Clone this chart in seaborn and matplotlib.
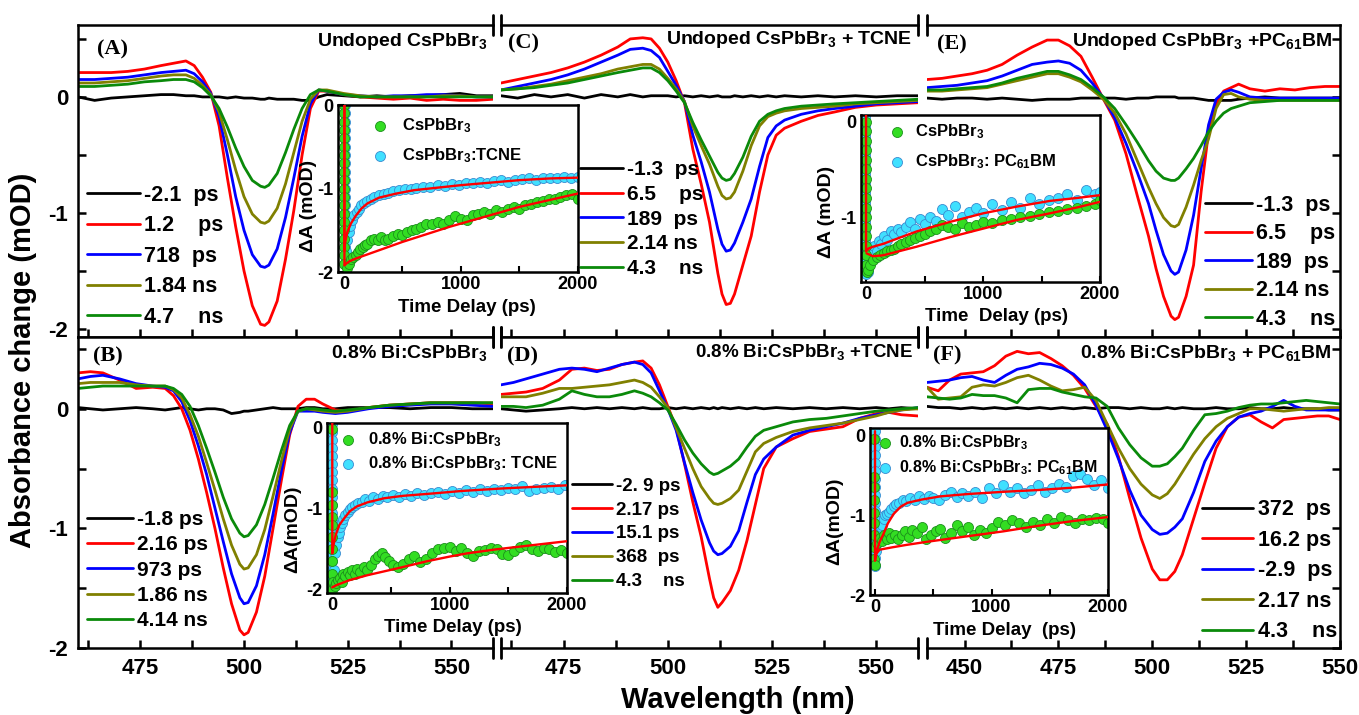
import numpy as np
import matplotlib
matplotlib.use("Agg")
import matplotlib.pyplot as plt
import seaborn as sns
from matplotlib.ticker import MultipleLocator, FixedLocator, FuncFormatter

# ==========================================
# TRANSIENT SPECTRA  (wavelength nm, dA mOD)
# order of each panel: black, red, blue, olive, green
# ==========================================
wl_a = [460, 464, 468, 472, 476, 480, 483, 486, 488, 490, 492, 494, 496, 498, 500, 502, 504, 505,
        506, 508, 510, 512, 514, 516, 518, 520, 524, 528, 532, 536, 540, 544, 548, 552, 556, 560]
a_black = [0.00, -0.03, -0.01, 0.00, 0.01, 0.02, 0.02, 0.01, 0.01, 0.00, 0.00, 0.00, -0.01, 0.00, -0.01, -0.01, -0.02, -0.02,
           -0.01, -0.02, -0.02, -0.02, -0.03, -0.03, 0.00, 0.02, 0.01, 0.00, 0.01, 0.00, 0.01, 0.01, 0.02, 0.03, 0.01, 0.01]
a_red = [0.21, 0.21, 0.21, 0.22, 0.24, 0.27, 0.29, 0.31, 0.27, 0.17, 0.04, -0.25, -0.70, -1.12, -1.50, -1.80, -1.96, -1.97,
         -1.94, -1.76, -1.40, -0.98, -0.50, -0.10, 0.05, 0.05, 0.02, 0.00, -0.01, -0.02, -0.01, -0.03, -0.02, -0.03, -0.03, -0.02]
a_blue = [0.15, 0.15, 0.16, 0.17, 0.19, 0.21, 0.22, 0.23, 0.20, 0.13, 0.03, -0.17, -0.50, -0.86, -1.15, -1.36, -1.46, -1.47,
          -1.45, -1.31, -1.04, -0.70, -0.34, -0.06, 0.06, 0.05, 0.02, 0.01, 0.00, 0.01, 0.01, 0.02, 0.02, 0.01, 0.00, 0.00]
a_olive = [0.12, 0.12, 0.13, 0.14, 0.16, 0.18, 0.19, 0.19, 0.16, 0.10, 0.02, -0.13, -0.37, -0.63, -0.86, -1.01, -1.08, -1.09,
           -1.07, -0.96, -0.75, -0.48, -0.21, -0.02, 0.06, 0.06, 0.03, 0.01, 0.00, 0.00, 0.00, 0.00, 0.01, 0.01, 0.00, 0.00]
a_green = [0.09, 0.09, 0.10, 0.11, 0.13, 0.14, 0.15, 0.15, 0.13, 0.08, 0.01, -0.10, -0.26, -0.44, -0.60, -0.72, -0.77, -0.78,
           -0.76, -0.66, -0.48, -0.28, -0.10, 0.02, 0.06, 0.05, 0.02, 0.00, 0.00, 0.00, 0.00, 0.00, 0.00, 0.00, 0.00, 0.00]
labels_a = ["-2.1  ps", "1.2    ps", "718  ps", "1.84 ns", "4.7    ns"]

wl_b = [460, 463, 466, 470, 474, 478, 481, 483, 485, 487, 489, 491, 493, 495, 497, 499, 500, 501,
        503, 505, 507, 509, 511, 513, 515, 517, 519, 522, 525, 530, 535, 540, 545, 550, 555, 560]
b_black = [0.01, 0.00, -0.01, 0.00, 0.01, 0.00, -0.01, 0.00, 0.01, 0.00, -0.01, 0.00, 0.00, -0.01, -0.04, -0.03, -0.02, -0.02,
           -0.01, 0.00, 0.01, 0.00, 0.00, 0.00, 0.01, 0.01, 0.00, 0.00, 0.01, 0.01, 0.01, 0.00, 0.01, 0.01, 0.00, 0.00]
b_red = [0.30, 0.31, 0.30, 0.24, 0.17, 0.18, 0.17, 0.11, 0.00, -0.18, -0.42, -0.70, -1.00, -1.33, -1.63, -1.85, -1.89, -1.87,
         -1.70, -1.40, -1.00, -0.60, -0.22, 0.02, 0.08, 0.08, 0.04, -0.01, -0.02, 0.01, 0.03, 0.04, 0.05, 0.05, 0.05, 0.04]
b_blue = [0.25, 0.27, 0.28, 0.25, 0.21, 0.19, 0.18, 0.15, 0.06, -0.10, -0.31, -0.55, -0.83, -1.11, -1.38, -1.58, -1.63, -1.62,
          -1.48, -1.22, -0.88, -0.52, -0.20, -0.02, -0.02, -0.02, -0.03, -0.04, -0.03, 0.00, 0.02, 0.03, 0.04, 0.04, 0.03, 0.02]
b_olive = [0.21, 0.22, 0.22, 0.22, 0.20, 0.19, 0.19, 0.16, 0.09, -0.05, -0.23, -0.45, -0.68, -0.92, -1.14, -1.30, -1.34, -1.33,
           -1.22, -1.01, -0.73, -0.44, -0.17, -0.02, 0.00, -0.01, -0.02, -0.03, -0.02, 0.01, 0.03, 0.04, 0.05, 0.05, 0.05, 0.05]
b_green = [0.17, 0.18, 0.19, 0.19, 0.19, 0.19, 0.19, 0.17, 0.12, 0.02, -0.14, -0.33, -0.53, -0.74, -0.92, -1.04, -1.07, -1.06,
           -0.97, -0.80, -0.58, -0.35, -0.14, -0.02, 0.00, 0.00, -0.01, -0.02, -0.01, 0.01, 0.03, 0.04, 0.05, 0.05, 0.05, 0.05]
labels_b = ["-1.8 ps", "2.16 ps", "973 ps", "1.86 ns", "4.14 ns"]

wl_c = [460, 464, 468, 472, 476, 480, 484, 488, 491, 494, 496, 498, 500, 502, 504, 506, 508, 510,
        512, 513, 514, 515, 516, 518, 520, 522, 524, 526, 528, 532, 536, 540, 545, 550, 555, 560]
c_black = [0.01, -0.01, 0.02, 0.00, 0.02, -0.01, 0.02, 0.00, 0.02, 0.00, 0.01, 0.01, 0.01, 0.00, 0.01, 0.00, 0.01, 0.00,
           0.01, 0.00, 0.00, 0.00, 0.01, 0.00, 0.01, 0.00, 0.01, 0.00, 0.01, 0.00, 0.01, 0.00, 0.01, 0.00, 0.01, 0.01]
c_red = [0.12, 0.15, 0.18, 0.21, 0.25, 0.30, 0.36, 0.43, 0.50, 0.51, 0.50, 0.42, 0.30, 0.14, -0.05, -0.45, -0.75, -1.08,
         -1.52, -1.70, -1.79, -1.78, -1.70, -1.45, -1.20, -0.82, -0.50, -0.33, -0.27, -0.21, -0.16, -0.13, -0.09, -0.07, -0.06, -0.05]
c_blue = [0.06, 0.09, 0.12, 0.15, 0.19, 0.24, 0.30, 0.36, 0.41, 0.42, 0.40, 0.34, 0.22, 0.10, -0.04, -0.33, -0.56, -0.82,
          -1.14, -1.27, -1.33, -1.32, -1.26, -1.08, -0.88, -0.60, -0.35, -0.25, -0.20, -0.15, -0.12, -0.10, -0.08, -0.06, -0.05, -0.04]
c_olive = [0.06, 0.07, 0.09, 0.11, 0.14, 0.17, 0.20, 0.24, 0.26, 0.28, 0.28, 0.24, 0.16, 0.07, -0.04, -0.25, -0.42, -0.58,
           -0.77, -0.85, -0.88, -0.87, -0.82, -0.64, -0.42, -0.25, -0.17, -0.14, -0.12, -0.10, -0.09, -0.08, -0.06, -0.05, -0.04, -0.03]
c_green = [0.06, 0.07, 0.08, 0.10, 0.12, 0.15, 0.18, 0.21, 0.23, 0.25, 0.25, 0.21, 0.14, 0.05, -0.05, -0.22, -0.37, -0.51,
           -0.65, -0.70, -0.72, -0.71, -0.66, -0.52, -0.34, -0.21, -0.15, -0.12, -0.10, -0.08, -0.07, -0.06, -0.05, -0.04, -0.03, -0.02]
labels_c = ["-1.3  ps", "6.5    ps", "189  ps", "2.14 ns", "4.3    ns"]

wl_d = [460, 463, 466, 470, 474, 477, 480, 483, 486, 489, 492, 494, 496, 498, 500, 502, 504, 506, 508,
        510, 511, 512, 513, 515, 517, 519, 521, 523, 526, 530, 534, 538, 542, 546, 550, 553, 556, 560]
d_black = [0.00, -0.01, -0.02, -0.01, 0.00, 0.01, 0.00, 0.01, 0.00, 0.01, 0.00, 0.01, 0.00, 0.00, 0.01, 0.00, 0.01, 0.00, 0.01,
           0.00, 0.01, 0.00, 0.01, 0.00, 0.01, 0.00, 0.01, 0.00, 0.01, 0.00, 0.01, 0.00, 0.01, 0.00, 0.01, 0.00, 0.01, 0.00]
d_red = [0.12, 0.13, 0.14, 0.17, 0.24, 0.33, 0.34, 0.32, 0.33, 0.37, 0.39, 0.40, 0.34, 0.20, 0.02, -0.16, -0.46, -0.78, -1.07,
         -1.42, -1.58, -1.66, -1.62, -1.52, -1.35, -1.10, -0.80, -0.50, -0.32, -0.25, -0.19, -0.17, -0.15, -0.08, -0.04, -0.03, -0.05, -0.06]
d_blue = [0.20, 0.22, 0.25, 0.29, 0.33, 0.34, 0.33, 0.31, 0.34, 0.37, 0.39, 0.37, 0.30, 0.15, 0.00, -0.18, -0.45, -0.70, -0.93,
          -1.12, -1.19, -1.22, -1.21, -1.15, -1.02, -0.78, -0.55, -0.42, -0.32, -0.22, -0.18, -0.15, -0.12, -0.08, -0.05, -0.03, -0.01, 0.01]
d_olive = [0.10, 0.10, 0.10, 0.13, 0.17, 0.17, 0.18, 0.19, 0.20, 0.22, 0.24, 0.22, 0.18, 0.10, 0.01, -0.16, -0.33, -0.50, -0.65,
           -0.75, -0.79, -0.80, -0.79, -0.75, -0.68, -0.52, -0.36, -0.29, -0.24, -0.19, -0.16, -0.14, -0.12, -0.09, -0.06, -0.03, -0.01, 0.00]
d_green = [0.02, 0.02, 0.01, 0.03, 0.08, 0.15, 0.12, 0.10, 0.10, 0.12, 0.15, 0.13, 0.10, 0.05, -0.01, -0.13, -0.26, -0.37, -0.46,
           -0.53, -0.55, -0.54, -0.52, -0.48, -0.42, -0.32, -0.23, -0.18, -0.15, -0.11, -0.09, -0.08, -0.06, -0.04, -0.02, -0.01, 0.00, 0.01]
labels_d = ["-2. 9 ps", "2.17 ps", "15.1 ps", "368  ps", "4.3    ns"]

wl_e = [440, 444, 448, 452, 456, 460, 464, 468, 472, 475, 478, 481, 484, 487, 490, 493, 496, 499, 501,
        503, 505, 506, 507, 509, 511, 513, 515, 517, 519, 521, 523, 526, 530, 534, 538, 542, 546, 550]
e_black = [-0.01, -0.02, -0.01, -0.01, -0.02, -0.01, -0.02, -0.03, -0.02, -0.02, -0.02, -0.01, -0.01, -0.01, -0.01, -0.02, -0.01, -0.01, 0.00,
           0.00, 0.00, 0.00, -0.01, -0.01, -0.01, -0.02, -0.03, -0.03, -0.03, -0.03, -0.02, -0.01, 0.00, -0.01, -0.01, -0.01, -0.01, -0.01]
e_red = [0.15, 0.16, 0.18, 0.20, 0.23, 0.28, 0.36, 0.43, 0.49, 0.49, 0.44, 0.35, 0.17, -0.02, -0.20, -0.49, -0.85, -1.20, -1.48,
         -1.72, -1.89, -1.92, -1.90, -1.72, -1.45, -0.82, -0.30, -0.06, 0.05, 0.08, 0.11, 0.07, 0.05, 0.07, 0.06, 0.08, 0.09, 0.09]
e_blue = [0.08, 0.09, 0.10, 0.12, 0.14, 0.18, 0.23, 0.28, 0.30, 0.31, 0.29, 0.23, 0.12, -0.01, -0.18, -0.40, -0.65, -0.92, -1.15,
          -1.36, -1.50, -1.53, -1.51, -1.32, -1.02, -0.62, -0.24, -0.02, 0.04, 0.06, 0.04, 0.00, -0.01, -0.01, -0.01, -0.01, -0.01, -0.01]
e_olive = [0.05, 0.05, 0.06, 0.07, 0.08, 0.11, 0.14, 0.17, 0.20, 0.20, 0.17, 0.13, 0.06, -0.02, -0.14, -0.32, -0.55, -0.78, -0.92,
           -1.04, -1.11, -1.12, -1.10, -0.95, -0.76, -0.55, -0.36, -0.10, 0.02, 0.03, 0.00, -0.02, -0.03, -0.03, -0.03, -0.03, -0.03, -0.03]
e_green = [0.06, 0.06, 0.07, 0.08, 0.09, 0.12, 0.16, 0.19, 0.22, 0.22, 0.19, 0.15, 0.08, 0.00, -0.10, -0.24, -0.39, -0.55, -0.64,
           -0.70, -0.72, -0.72, -0.70, -0.62, -0.53, -0.42, -0.30, -0.21, -0.14, -0.10, -0.08, -0.05, -0.04, -0.03, -0.03, -0.03, -0.03, -0.03]
labels_e = ["-1.3  ps", "6.5    ps", "189  ps", "2.14 ns", "4.3    ns"]

wl_f = [440, 443, 446, 449, 452, 455, 458, 461, 464, 467, 470, 473, 476, 479, 482, 485, 488, 491, 494, 497,
        500, 502, 504, 506, 508, 511, 514, 517, 520, 523, 526, 529, 532, 535, 538, 541, 544, 547, 550]
f_black = [0.02, 0.01, 0.01, 0.00, 0.01, 0.00, 0.01, 0.00, 0.01, 0.00, 0.01, 0.00, 0.01, 0.00, 0.01, 0.00, 0.01, 0.01, 0.00, 0.01,
           0.00, 0.00, 0.01, 0.00, 0.01, 0.00, 0.00, 0.01, 0.00, 0.00, 0.01, 0.00, 0.00, 0.01, 0.00, 0.00, 0.00, -0.01, -0.01]
f_red = [0.18, 0.15, 0.24, 0.29, 0.30, 0.31, 0.36, 0.44, 0.48, 0.46, 0.47, 0.42, 0.36, 0.28, 0.17, 0.02, -0.13, -0.40, -0.75, -1.08,
         -1.34, -1.43, -1.43, -1.36, -1.22, -0.92, -0.62, -0.33, -0.15, -0.07, -0.05, -0.11, -0.16, -0.09, -0.08, -0.07, -0.06, -0.06, -0.09]
f_blue = [0.22, 0.23, 0.24, 0.26, 0.27, 0.24, 0.22, 0.28, 0.33, 0.35, 0.38, 0.37, 0.34, 0.29, 0.20, 0.03, -0.18, -0.42, -0.68, -0.89,
          -1.01, -1.05, -1.04, -0.99, -0.92, -0.70, -0.44, -0.27, -0.15, -0.07, -0.04, -0.02, 0.02, 0.07, 0.02, -0.01, -0.01, -0.01, -0.01]
f_olive = [0.18, 0.08, 0.09, 0.10, 0.18, 0.20, 0.19, 0.22, 0.26, 0.28, 0.24, 0.19, 0.15, 0.16, 0.18, 0.07, -0.13, -0.33, -0.50, -0.63,
           -0.72, -0.75, -0.71, -0.63, -0.53, -0.38, -0.25, -0.15, -0.08, -0.04, 0.00, 0.00, -0.01, -0.02, -0.01, 0.00, 0.00, 0.01, 0.01]
f_green = [0.10, 0.09, 0.08, 0.09, 0.12, 0.11, 0.11, 0.09, 0.05, 0.16, 0.17, 0.17, 0.14, 0.12, 0.10, 0.09, 0.02, -0.16, -0.30, -0.41,
           -0.48, -0.48, -0.46, -0.40, -0.33, -0.18, -0.05, -0.04, -0.02, 0.01, 0.03, 0.04, 0.04, 0.05, 0.06, 0.07, 0.06, 0.05, 0.04]
labels_f = ["372  ps", "16.2 ps", "-2.9  ps", "2.17 ns", "4.3    ns"]

titles = ["Undoped CsPbBr$_3$", "0.8% Bi:CsPbBr$_3$",
          "Undoped CsPbBr$_3$ + TCNE", "0.8% Bi:CsPbBr$_3$ +TCNE",
          "Undoped CsPbBr$_3$ +PC$_{61}$BM", "0.8% Bi:CsPbBr$_3$ + PC$_{61}$BM"]

# ==========================================
# KINETIC INSETS  (time ps, dA mOD) as (t, dA) pairs
# ==========================================
ins1_green = [(0, 0.00), (0, -0.10), (0, -0.20), (0, -0.30), (0, -0.40), (0, -0.50), (0, -0.60), (0, -0.70), (0, -0.80), (0, -0.90),
              (0, -1.00), (0, -1.10), (0, -1.20), (0, -1.30), (0, -1.40), (0, -1.50), (0, -1.60), (0, -1.70), (0, -1.80), (0, -1.90),
              (30, -1.95), (45, -1.90), (60, -1.85), (80, -1.82), (100, -1.80), (120, -1.76), (140, -1.72), (160, -1.70), (180, -1.68),
              (200, -1.66), (230, -1.62), (260, -1.60), (290, -1.62), (320, -1.58), (350, -1.62), (380, -1.60), (420, -1.57), (460, -1.55),
              (500, -1.56), (540, -1.52), (580, -1.50), (620, -1.48), (660, -1.46), (700, -1.43), (750, -1.42), (800, -1.40), (850, -1.42),
              (900, -1.38), (950, -1.33), (1000, -1.36), (1050, -1.38), (1100, -1.32), (1150, -1.30), (1200, -1.28), (1250, -1.30),
              (1300, -1.26), (1350, -1.28), (1400, -1.24), (1450, -1.22), (1500, -1.24), (1550, -1.20), (1600, -1.18), (1650, -1.16),
              (1700, -1.15), (1750, -1.13), (1800, -1.12), (1850, -1.10), (1900, -1.08), (1950, -1.06), (2000, -1.12)]
ins1_cyan = [(8, 0.00), (8, -0.10), (8, -0.20), (8, -0.30), (8, -0.40), (8, -0.50), (8, -0.60), (8, -0.70), (8, -0.80), (8, -0.90),
             (8, -1.00), (8, -1.10), (8, -1.20), (8, -1.30), (8, -1.40), (8, -1.50), (8, -1.60), (8, -1.70), (8, -1.80), (8, -1.90),
             (20, -1.75), (30, -1.62), (40, -1.52), (55, -1.45), (70, -1.38), (90, -1.32), (110, -1.28), (130, -1.24), (150, -1.20),
             (175, -1.17), (200, -1.15), (230, -1.12), (260, -1.10), (300, -1.08), (340, -1.06), (380, -1.05), (420, -1.03), (470, -1.02),
             (520, -1.01), (570, -1.00), (620, -0.99), (680, -0.98), (740, -0.98), (800, -0.96), (860, -0.97), (920, -0.95), (980, -0.96),
             (1040, -0.93), (1100, -0.94), (1160, -0.92), (1220, -0.93), (1280, -0.91), (1340, -0.90), (1400, -0.92), (1460, -0.90),
             (1520, -0.89), (1580, -0.88), (1640, -0.90), (1700, -0.88), (1760, -0.87), (1820, -0.88), (1880, -0.86), (1940, -0.87), (2000, -0.86)]
ins1_fit_cyan = [(5, 0.0), (5, -1.75), (10, -1.65), (30, -1.52), (60, -1.42), (100, -1.33), (150, -1.24), (200, -1.18), (300, -1.11),
                 (450, -1.06), (600, -1.02), (800, -0.99), (1000, -0.96), (1250, -0.93), (1500, -0.90), (1750, -0.88), (2000, -0.87)]
ins1_fit_green = [(5, 0.0), (5, -1.92), (20, -1.90), (50, -1.87), (100, -1.84), (200, -1.79), (300, -1.74), (400, -1.69), (500, -1.64),
                  (700, -1.55), (900, -1.46), (1100, -1.38), (1300, -1.30), (1500, -1.22), (1750, -1.14), (2000, -1.06)]
ins1_labels = ["CsPbBr$_3$", "CsPbBr$_3$:TCNE"]

ins2_green = [(0, 0.00), (0, -0.10), (0, -0.20), (0, -0.30), (0, -0.40), (0, -0.50), (0, -0.60), (0, -0.70), (0, -0.80), (0, -0.90),
              (0, -1.00), (0, -1.10), (0, -1.20), (0, -1.30), (0, -1.40), (0, -1.50), (5, -1.58), (15, -1.55),
              (30, -1.50), (60, -1.45), (90, -1.42), (120, -1.40), (150, -1.38), (180, -1.36), (210, -1.34), (240, -1.33), (270, -1.30),
              (300, -1.28), (340, -1.26), (380, -1.24), (420, -1.22), (460, -1.20), (500, -1.18), (550, -1.15), (600, -1.12), (650, -1.08),
              (700, -1.10), (760, -1.12), (820, -1.06), (880, -1.10), (940, -1.08), (1000, -1.05), (1080, -1.06), (1160, -1.03),
              (1240, -1.02), (1320, -1.00), (1400, -0.99), (1480, -0.97), (1560, -0.95), (1640, -0.94), (1720, -0.92), (1800, -0.90),
              (1880, -0.88), (1960, -0.86), (2000, -0.82)]
ins2_cyan = [(-5, 0.05), (-5, -0.05), (-5, -0.15), (-5, -0.25), (-5, -0.35), (-5, -0.45), (-5, -0.55), (-5, -0.65), (-5, -0.75),
             (-5, -0.85), (-5, -0.95), (-5, -1.05), (-5, -1.15), (-5, -1.25), (-5, -1.35), (-5, -1.45), (-5, -1.55),
             (0, -1.60), (5, -1.52), (10, -1.45), (15, -1.58), (20, -1.50), (25, -1.40),
             (30, -1.45), (50, -1.38), (70, -1.30), (90, -1.35), (110, -1.25), (130, -1.28), (150, -1.20), (180, -1.24), (210, -1.15),
             (240, -1.18), (270, -1.12), (300, -1.16), (340, -1.10), (380, -1.05), (420, -1.12), (460, -1.02), (500, -1.07), (550, -1.00),
             (600, -1.04), (650, -0.92), (700, -0.98), (760, -0.88), (820, -1.00), (880, -0.95), (940, -0.90), (1000, -0.96), (1080, -0.86),
             (1160, -0.93), (1240, -0.84), (1320, -0.90), (1400, -0.80), (1480, -0.86), (1560, -0.82), (1640, -0.80), (1720, -0.76),
             (1800, -0.82), (1880, -0.72), (1960, -0.76), (2000, -0.74)]
ins2_fit_cyan = [(0, 0.07), (0, -1.36), (20, -1.33), (60, -1.31), (147, -1.28), (300, -1.21), (433, -1.15), (718, -1.05), (1003, -0.96),
                 (1288, -0.89), (1573, -0.83), (1800, -0.80), (2000, -0.77)]
ins2_fit_green = [(5, -1.38), (60, -1.41), (147, -1.40), (433, -1.31), (718, -1.21), (1003, -1.12), (1288, -1.03), (1573, -0.96),
                  (1800, -0.90), (2000, -0.84)]
ins2_labels = ["CsPbBr$_3$", "CsPbBr$_3$: PC$_{61}$BM"]

ins3_green = [(-5, -0.02), (-5, -0.79), (-5, -0.95), (-5, -1.10), (-5, -1.20), (-5, -1.35), (-5, -1.50), (-5, -1.65), (-5, -1.80),
              (-5, -1.95), (0, -2.00), (5, -1.90),
              (20, -1.95), (35, -1.92), (50, -1.88), (65, -1.85), (80, -1.90), (95, -1.80), (110, -1.83), (130, -1.78), (150, -1.82),
              (170, -1.76), (190, -1.80), (210, -1.74), (240, -1.78), (270, -1.72), (300, -1.76), (330, -1.70), (360, -1.62), (390, -1.58),
              (420, -1.55), (450, -1.60), (480, -1.65), (520, -1.70), (560, -1.72), (600, -1.68), (650, -1.62), (700, -1.58), (750, -1.66),
              (800, -1.62), (850, -1.55), (900, -1.50), (950, -1.48), (1000, -1.47), (1050, -1.52), (1100, -1.49), (1150, -1.55),
              (1200, -1.58), (1250, -1.52), (1300, -1.51), (1350, -1.48), (1400, -1.50), (1450, -1.56), (1500, -1.57), (1550, -1.52),
              (1600, -1.47), (1650, -1.45), (1700, -1.50), (1750, -1.52), (1800, -1.48), (1850, -1.50), (1900, -1.53), (1950, -1.51), (2000, -1.54)]
ins3_cyan = [(0, 0.05), (0, -0.05), (0, -0.15), (0, -0.25), (0, -0.35), (0, -0.45), (0, -0.55), (0, -0.65), (0, -0.75), (0, -0.85),
             (0, -0.95), (0, -1.05), (0, -1.15), (0, -1.25), (0, -1.35), (0, -1.45), (0, -1.55), (0, -1.65), (0, -1.75), (0, -1.85), (0, -1.95),
             (15, -1.75), (25, -1.55), (35, -1.45), (45, -1.35), (55, -1.30), (65, -1.22), (80, -1.18), (95, -1.12), (110, -1.08),
             (130, -1.04), (150, -1.00), (170, -0.98), (190, -0.95), (220, -0.93), (250, -0.92), (280, -0.88), (310, -0.90), (350, -0.86),
             (390, -0.88), (430, -0.84), (470, -0.86), (520, -0.83), (570, -0.85), (620, -0.82), (670, -0.84), (720, -0.80), (780, -0.83),
             (840, -0.81), (900, -0.79), (960, -0.82), (1020, -0.78), (1080, -0.80), (1140, -0.77), (1200, -0.79), (1260, -0.76),
             (1320, -0.78), (1380, -0.75), (1440, -0.77), (1500, -0.74), (1560, -0.76), (1620, -0.72), (1680, -0.78), (1740, -0.76),
             (1800, -0.74), (1860, -0.73), (1920, -0.75), (1980, -0.70)]
ins3_fit_cyan = [(0, 0.06), (0, -1.55), (10, -1.45), (30, -1.32), (60, -1.20), (100, -1.12), (150, -1.03), (210, -0.97), (300, -0.92),
                 (440, -0.87), (600, -0.84), (860, -0.81), (1100, -0.78), (1430, -0.75), (1700, -0.73), (2000, -0.71)]
ins3_fit_green = [(0, -1.97), (40, -1.94), (150, -1.88), (300, -1.82), (450, -1.77), (600, -1.72), (800, -1.65), (1000, -1.59),
                  (1150, -1.55), (1400, -1.50), (1700, -1.45), (2000, -1.40)]
ins3_labels = ["0.8% Bi:CsPbBr$_3$", "0.8% Bi:CsPbBr$_3$: TCNE"]

ins4_green = [(-5, -0.04), (-5, -0.52), (-5, -0.64), (-5, -0.81), (-5, -0.97), (-5, -1.10), (-5, -1.25), (-5, -1.40), (-5, -1.55), (0, -1.62),
              (20, -1.35), (40, -1.28), (60, -1.32), (80, -1.25), (100, -1.30), (120, -1.22), (140, -1.28), (170, -1.24), (200, -1.30),
              (230, -1.25), (260, -1.20), (290, -1.27), (320, -1.18), (360, -1.22), (400, -1.15), (440, -1.30), (480, -1.25), (520, -1.20),
              (560, -1.17), (600, -1.28), (650, -1.22), (700, -1.12), (750, -1.20), (800, -1.15), (850, -1.25), (900, -1.18), (950, -1.22),
              (1000, -1.16), (1060, -1.08), (1120, -1.12), (1180, -1.06), (1240, -1.10), (1300, -1.14), (1360, -1.08), (1420, -1.12),
              (1480, -1.05), (1540, -1.10), (1600, -1.02), (1660, -1.06), (1720, -1.09), (1780, -1.04), (1840, -1.06), (1900, -1.03),
              (1960, -1.05), (2000, -1.10)]
ins4_cyan = [(0, 0.06), (0, -0.04), (0, -0.14), (0, -0.24), (0, -0.34), (0, -0.44), (0, -0.54), (0, -0.64), (0, -0.74), (0, -0.84),
             (0, -0.94), (0, -1.04), (0, -1.14), (0, -1.24), (0, -1.34), (0, -1.44), (0, -1.54), (0, -1.64),
             (10, -1.45), (20, -1.35), (30, -1.28), (40, -1.22), (50, -1.15), (60, -1.12), (75, -1.05), (90, -1.00), (105, -0.98),
             (120, -0.95), (140, -0.92), (160, -0.88), (180, -0.86), (210, -0.84), (240, -0.80), (270, -0.82), (300, -0.78), (340, -0.80),
             (380, -0.76), (420, -0.79), (460, -0.75), (500, -0.78), (550, -0.80), (600, -0.74), (650, -0.70), (700, -0.77), (750, -0.72),
             (800, -0.75), (860, -0.70), (920, -0.78), (980, -0.66), (1040, -0.72), (1100, -0.62), (1160, -0.70), (1220, -0.65),
             (1280, -0.72), (1340, -0.68), (1400, -0.62), (1460, -0.70), (1520, -0.66), (1580, -0.60), (1640, -0.64), (1700, -0.50),
             (1760, -0.48), (1820, -0.54), (1880, -0.62), (1940, -0.55), (2000, -0.66)]
ins4_fit_cyan = [(0, 0.06), (0, -1.57), (20, -1.42), (40, -1.33), (70, -1.24), (110, -1.10), (160, -0.98), (220, -0.89), (280, -0.84),
                 (400, -0.80), (560, -0.76), (800, -0.73), (1130, -0.70), (1400, -0.68), (1700, -0.65), (2000, -0.61)]
ins4_fit_green = [(0, -1.50), (40, -1.43), (150, -1.40), (270, -1.37), (450, -1.33), (650, -1.29), (850, -1.25), (1100, -1.20),
                  (1400, -1.13), (1700, -1.07), (2000, -1.02)]
ins4_labels = ["0.8% Bi:CsPbBr$_3$", "0.8% Bi:CsPbBr$_3$: PC$_{61}$BM"]

# ==========================================
# STYLE
# ==========================================
sns.set_theme(style="ticks", rc={
    "axes.linewidth": 1.8, "axes.edgecolor": "black",
    "xtick.color": "black", "ytick.color": "black",
    "text.color": "black", "axes.labelcolor": "black",
})
plt.rcParams["font.family"] = ["Liberation Sans", "DejaVu Sans"]
plt.rcParams["font.weight"] = "bold"
plt.rcParams["axes.unicode_minus"] = False
plt.rcParams["mathtext.fontset"] = "custom"
plt.rcParams["mathtext.rm"] = "Liberation Sans:bold"
plt.rcParams["mathtext.it"] = "Liberation Sans:bold"
plt.rcParams["mathtext.bf"] = "Liberation Sans:bold"
plt.rcParams["mathtext.sf"] = "Liberation Sans:bold"
plt.rcParams["mathtext.default"] = "bf"

line_colors = ["#000000", "#ff0000", "#0000ff", "#808000", "#0a8a0a"]
fmt = FuncFormatter(lambda v, pos: f"{v:g}")

W, H = 1359, 715
fig = plt.figure(figsize=(W / 100, H / 100), dpi=100)


def add_px_axes(x, y, w, h):
    # pixel box (left, top, width, height) -> figure fraction
    return fig.add_axes([x / W, 1 - (y + h) / H, w / W, h / H])


col_x = [78, 501, 927]
col_w = [415, 417, 413]
row_y = [25, 337]
row_h = [312, 311]
col_xlim = [(460, 560), (460, 560), (440, 550)]
row_ylim = [(-2.07, 0.62), (-2.0, 0.60)]

# (row, col, letter, wl, curves, labels, legend(x, y, size, handle, spacing), title(x, y, size), letter(x, y))
panels = [
    (0, 0, "(A)", wl_a, [a_black, a_red, a_blue, a_olive, a_green], labels_a, (0.022, 0.488, 15.5, 2.45, 0.44), (0.988, 0.946, 14), (0.045, 0.923)),
    (1, 0, "(B)", wl_b, [b_black, b_red, b_blue, b_olive, b_green], labels_b, (0.022, 0.443, 15, 2.2, 0.30), (0.988, 0.949, 14), (0.037, 0.937)),
    (0, 1, "(C)", wl_c, [c_black, c_red, c_blue, c_olive, c_green], labels_c, (0.189, 0.566, 15, 2.06, 0.27), (0.985, 0.952, 14), (0.0175, 0.941)),
    (1, 1, "(D)", wl_d, [d_black, d_red, d_blue, d_olive, d_green], labels_d, (0.170, 0.548, 13.5, 2.13, 0.36), (0.988, 0.953, 13.5), (0.0137, 0.937)),
    (0, 2, "(E)", wl_e, [e_black, e_red, e_blue, e_olive, e_green], labels_e, (0.673, 0.456, 15.5, 2.18, 0.35), (0.982, 0.946, 14), (0.0235, 0.936)),
    (1, 2, "(F)", wl_f, [f_black, f_red, f_blue, f_olive, f_green], labels_f, (0.665, 0.478, 15.5, 2.4, 0.44), (0.980, 0.949, 14), (0.015, 0.942)),
]

for i, (r, c, letter, wl, curves, labels, leg, tpos, lpos) in enumerate(panels):
    ax = add_px_axes(col_x[c], row_y[r], col_w[c], row_h[r])
    handles = []
    for vals, colr, lab in zip(curves, line_colors, labels):
        sns.lineplot(x=wl, y=vals, ax=ax, color=colr, linewidth=2.0, estimator=None, sort=False, legend=False)
        ln = ax.lines[-1]
        ln.set_label(lab)
        handles.append(ln)
    ax.set_xlim(*col_xlim[c])
    ax.set_ylim(*row_ylim[r])
    ax.set_xlabel("")
    ax.set_ylabel("")

    ax.xaxis.set_major_locator(MultipleLocator(25))
    ax.xaxis.set_minor_locator(MultipleLocator(12.5))
    ax.yaxis.set_major_locator(MultipleLocator(1))
    ax.yaxis.set_minor_locator(MultipleLocator(0.5))
    ax.xaxis.set_major_formatter(fmt)
    ax.yaxis.set_major_formatter(fmt)
    ax.tick_params(axis="both", which="both", direction="in", width=1.8, length=6,
                   labelsize=16, pad=7, top=False)
    ax.tick_params(axis="x", labelbottom=(r == 1))
    if c == 0:
        ax.spines["right"].set_visible(False)
        ax.tick_params(axis="y", left=True, right=False, labelleft=True)
        sides = [1]
    elif c == 1:
        ax.spines["left"].set_visible(False)
        ax.spines["right"].set_visible(False)
        ax.tick_params(axis="y", which="both", left=False, right=False, labelleft=False)
        sides = [0, 1]
    else:
        ax.spines["left"].set_visible(False)
        ax.tick_params(axis="y", which="both", left=False, right=True, labelleft=False)
        sides = [0]
    for lab in ax.get_xticklabels() + ax.get_yticklabels():
        lab.set_fontweight("bold")

    # axis break marks
    d = 10 / row_h[r]
    for xa in sides:
        for ya in (0, 1):
            ax.plot([xa, xa], [ya - d, ya + d], transform=ax.transAxes, color="black",
                    lw=2.0, clip_on=False, zorder=6)

    lx, ly, lfs, lhl, lls = leg
    ax.legend(handles=handles, labels=labels, loc="upper left", bbox_to_anchor=(lx, ly),
              frameon=False, prop={"size": lfs, "weight": "bold"}, handlelength=lhl,
              handletextpad=0.2, labelspacing=lls, borderpad=0, borderaxespad=0)
    ax.text(tpos[0], tpos[1], titles[i], transform=ax.transAxes, ha="right", va="center",
            fontsize=tpos[2], fontweight="bold")
    ax.text(lpos[0], lpos[1], letter, transform=ax.transAxes, ha="left", va="center",
            fontsize=16, fontweight="bold", family="Liberation Serif")

fig.text(23 / W, 1 - 360 / H, "Absorbance change (mOD)", rotation=90, ha="center", va="center",
         fontsize=21, fontweight="bold")
fig.text(738 / W, 1 - 700 / H, "Wavelength (nm)", ha="center", va="center",
         fontsize=21, fontweight="bold")

# ==========================================
# INSETS
# ==========================================
# (box px, xlim, ylim, green, cyan, fit green, fit cyan, labels, ylabel, xlabel, ylab pos, xlab pos, legend(x, y, size, spacing, pad))
insets = [
    ((338, 105, 240, 167), (-50, 2000), (-2.0, 0.0), ins1_green, ins1_cyan, ins1_fit_green, ins1_fit_cyan, ins1_labels,
     "ΔA (mOD)", "Time Delay (ps)", (-0.121, 0.395), (0.5375, -0.215), (0.140, 0.930, 12, 0.65, 0.8)),
    ((861, 115, 239, 167), (-43, 2000), (-1.68, 0.07), ins2_green, ins2_cyan, ins2_fit_green, ins2_fit_cyan, ins2_labels,
     "ΔA (mOD)", "Time  Delay (ps)", (-0.146, 0.419), (0.565, -0.205), (0.114, 0.956, 12, 0.7, 0.6)),
    ((327, 423, 240, 170), (-45, 2000), (-2.04, 0.06), ins3_green, ins3_cyan, ins3_fit_green, ins3_fit_cyan, ins3_labels,
     "ΔA(mOD)", "Time Delay (ps)", (-0.144, 0.376), (0.523, -0.205), (0.054, 0.959, 12, 0.35, 0.7)),
    ((870, 428, 238, 167), (-43, 2000), (-2.0, 0.1), ins4_green, ins4_cyan, ins4_fit_green, ins4_fit_cyan, ins4_labels,
     "ΔA(mOD)", "Time Delay  (ps)", (-0.147, 0.443), (0.567, -0.21), (0.029, 0.968, 11.5, 0.4, 0.4)),
]

for box, xlim, ylim, green, cyan, fit_g, fit_c, labs, ylab, xlab, ypos, xpos, leg in insets:
    ins = add_px_axes(*box)
    ins.set_facecolor("white")
    ct, cv = np.array(cyan).T
    gt, gv = np.array(green).T
    sns.scatterplot(x=ct, y=cv, ax=ins, s=52, color="#40e0ff", edgecolor="#3a8ad0", linewidth=0.6, zorder=2, legend=False)
    h_cyan = ins.collections[-1]
    sns.scatterplot(x=gt, y=gv, ax=ins, s=52, color="#33dd22", edgecolor="#1c8f1c", linewidth=0.6, zorder=2, legend=False)
    h_green = ins.collections[-1]
    for fit in (fit_g, fit_c):
        ft, fv = np.array(fit).T
        sns.lineplot(x=ft, y=fv, ax=ins, color="#ff0000", linewidth=1.7, estimator=None, sort=False, legend=False, zorder=3)
    ins.set_xlim(*xlim)
    ins.set_ylim(*ylim)
    ins.set_xlabel("")
    ins.set_ylabel("")
    ins.xaxis.set_major_locator(FixedLocator([0, 1000, 2000]))
    ins.xaxis.set_minor_locator(FixedLocator([500, 1500]))
    ins.yaxis.set_major_locator(FixedLocator([0, -1, -2]))
    ins.yaxis.set_minor_locator(FixedLocator([-0.5, -1.5]))
    ins.xaxis.set_major_formatter(fmt)
    ins.yaxis.set_major_formatter(fmt)
    ins.tick_params(axis="both", which="both", direction="in", width=1.5, length=4,
                    labelsize=13, pad=3, top=False, right=False)
    for lab in ins.get_xticklabels() + ins.get_yticklabels():
        lab.set_fontweight("bold")
    for sp in ins.spines.values():
        sp.set_linewidth(1.8)
    ins.text(ypos[0], ypos[1], ylab, transform=ins.transAxes, rotation=90, ha="center", va="center",
             fontsize=14, fontweight="bold")
    ins.text(xpos[0], xpos[1], xlab, transform=ins.transAxes, ha="center", va="center",
             fontsize=13.5, fontweight="bold")
    lx, ly, lfs, lls, lpad = leg
    ins.legend(handles=[h_green, h_cyan], labels=labs, loc="upper left", bbox_to_anchor=(lx, ly),
               frameon=False, prop={"size": lfs, "weight": "bold"}, handlelength=1.0, scatterpoints=1,
               handletextpad=lpad, labelspacing=lls, borderpad=0, borderaxespad=0)

fig.savefig("out.png", dpi=100)
